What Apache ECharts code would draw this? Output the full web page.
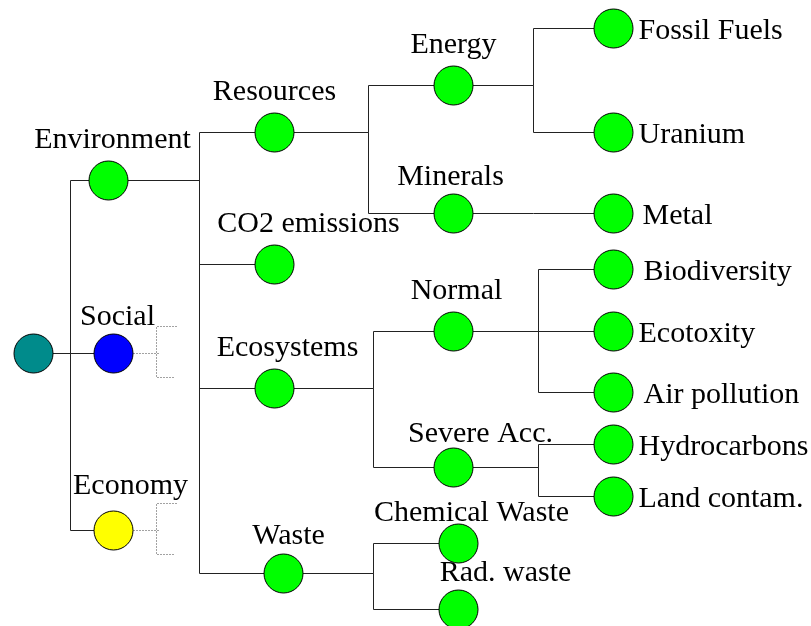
<!DOCTYPE html>
<html>
<head>
<meta charset="utf-8">
<script src="https://cdn.jsdelivr.net/npm/echarts@6/dist/echarts.min.js"></script>
<style>
    html, body { margin: 0; padding: 0; background: #fff; }
    #main { width: 811px; height: 626px; }
</style>
</head>
<body>
<div id="main"></div>
<script>
// tree nodes, their parent, and where they sit
var names = ['root', 'Environment', 'Social', 'Economy',
    'Resources', 'CO2 emissions', 'Ecosystems', 'Waste',
    'Energy', 'Minerals', 'Normal', 'Severe Acc.', 'Chemical Waste', 'Rad. waste',
    'Fossil Fuels', 'Uranium', 'Metal', 'Biodiversity', 'Ecotoxity', 'Air pollution',
    'Hydrocarbons', 'Land contam.']
var parents = [-1, 0, 0, 0, 1, 1, 1, 1, 4, 4, 6, 6, 7, 7, 8, 8, 9, 10, 10, 10, 11, 11]
var nodeX = [33, 108, 113, 113, 274, 274, 274, 283, 453, 453, 453, 453, 458, 458,
    613, 613, 613, 613, 613, 613, 613, 613]
var nodeY = [353, 180, 353, 530, 132, 264, 388, 573, 85, 213, 331, 467, 543, 609,
    28, 132, 213, 269, 331, 392, 444, 496]
// x of the elbow where each parent splits into its branches
var forkX = { 'root': 70, 'Environment': 199, 'Resources': 368, 'Energy': 533,
    'Minerals': 533, 'Ecosystems': 373, 'Normal': 538, 'Severe Acc.': 538, 'Waste': 373 }
// nodes whose children are folded away (dotted stubs)
var collapsed = ['Social', 'Economy']

// styling
var colors = { 'root': '#008b8b', 'Social': '#0000ff', 'Economy': '#ffff00' }
var labelNudge = {
    'Environment': [4, 0], 'Social': [4, 4], 'Economy': [17, -4],
    'Minerals': [-3, 4], 'CO2 emissions': [34, 0], 'Normal': [3, 0],
    'Ecosystems': [13, 0], 'Severe Acc.': [27, 7], 'Waste': [5, 3],
    'Chemical Waste': [13, 10], 'Rad. waste': [47, 4],
    'Metal': [4, 0], 'Biodiversity': [5, 0], 'Air pollution': [5, 0]
}

function depth(i) {
    var d = 0
    while (parents[i] >= 0) { i = parents[i]; d++ }
    return d
}

var nodes = names.map(function (n, i) {
    var right = depth(i) === 4
    var nudge = labelNudge[n] || [0, 0]
    return {
        name: n,
        value: [nodeX[i], nodeY[i]],
        itemStyle: { color: colors[n] || '#00ff00' },
        label: {
            show: i > 0,
            position: right ? 'right' : 'top',
            distance: right ? 5 : 8,
            offset: [nudge[0], nudge[1] + 3]
        }
    }
})

var edges = []
for (var i = 1; i < names.length; i++) {
    var p = parents[i]
    var fx = forkX[names[p]]
    edges.push({ coords: [[nodeX[p], nodeY[p]], [fx, nodeY[p]], [fx, nodeY[i]], [nodeX[i], nodeY[i]]] })
}

var stubs = []
collapsed.forEach(function (n) {
    var i = names.indexOf(n)
    var x = nodeX[i], y = nodeY[i]
    stubs.push({ coords: [[x + 20, y], [x + 47, y]] })
    stubs.push({ coords: [[x + 63, y - 27], [x + 43, y - 27], [x + 43, y + 24], [x + 62, y + 24]] })
})

var chart = echarts.init(document.getElementById('main'))
chart.setOption({
    backgroundColor: '#fff',
    animation: false,
    grid: { left: 0, right: 0, top: 0, bottom: 0 },
    // half-pixel shift keeps the 1px connectors crisp
    xAxis: { type: 'value', min: -0.5, max: 810.5, show: false },
    yAxis: { type: 'value', min: -0.5, max: 625.5, inverse: true, show: false },
    series: [
        {
            type: 'lines',
            coordinateSystem: 'cartesian2d',
            polyline: true,
            silent: true,
            z: 1,
            lineStyle: { color: '#222', width: 1, opacity: 1 },
            data: edges
        },
        {
            type: 'lines',
            coordinateSystem: 'cartesian2d',
            polyline: true,
            silent: true,
            z: 1,
            lineStyle: { color: '#444', width: 1, type: [1, 2], opacity: 1 },
            data: stubs
        },
        {
            type: 'scatter',
            z: 3,
            symbol: 'circle',
            symbolSize: 39,
            itemStyle: { borderColor: '#000', borderWidth: 1, opacity: 1 },
            label: {
                color: '#000',
                fontFamily: 'Liberation Serif',
                fontSize: 30,
                formatter: '{b}'
            },
            data: nodes
        }
    ]
})
</script>
</body>
</html>
